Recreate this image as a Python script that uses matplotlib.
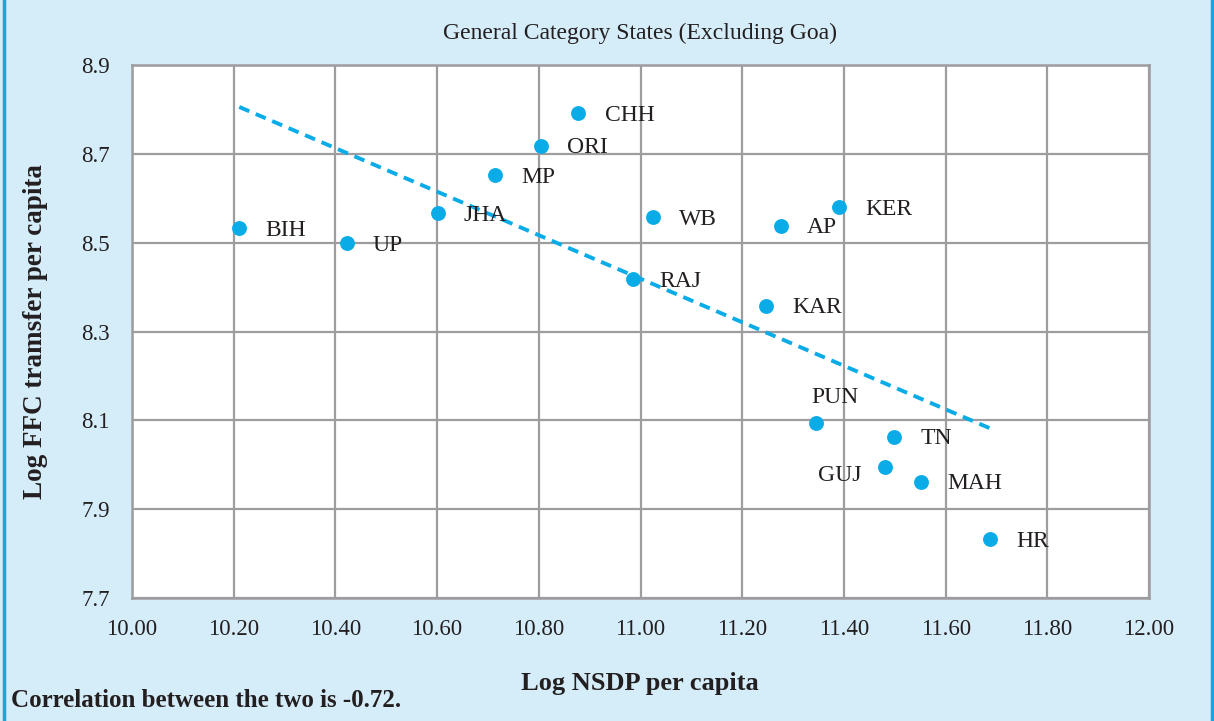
import numpy as np
import matplotlib.pyplot as plt
from matplotlib.lines import Line2D

# Data
states = ["BIH", "UP", "JHA", "MP", "ORI", "CHH", "WB", "RAJ",
          "AP", "KER", "KAR", "PUN", "TN", "GUJ", "MAH", "HR"]
log_nsdp = [10.211, 10.422, 10.601, 10.714, 10.804, 10.878, 11.024, 10.986,
            11.276, 11.391, 11.246, 11.345, 11.499, 11.481, 11.551, 11.687]
log_ffc = [8.532, 8.499, 8.566, 8.652, 8.718, 8.791, 8.558, 8.418,
           8.538, 8.580, 8.358, 8.093, 8.063, 7.994, 7.962, 7.833]
x_ticks = [10.0, 10.2, 10.4, 10.6, 10.8, 11.0, 11.2, 11.4, 11.6, 11.8, 12.0]
y_ticks = [7.7, 7.9, 8.1, 8.3, 8.5, 8.7, 8.9]

BG = "#D5ECF9"
BLUE = "#0AACE8"
GRID = "#9D9D9F"
TXT = "#231F20"

plt.rcParams["font.family"] = ["Liberation Serif", "DejaVu Serif"]

fig = plt.figure(figsize=(12.14, 7.21), dpi=100, facecolor=BG)
ax = fig.add_axes([0.1087, 0.1706, 0.8378, 0.7392])
ax.set_facecolor("white")

ax.set_xlim(10.0, 12.0)
ax.set_ylim(7.7, 8.9)
ax.set_xticks(x_ticks)
ax.set_yticks(y_ticks)
ax.set_xticklabels([f"{v:.2f}" for v in x_ticks])
ax.set_yticklabels([f"{v:.1f}" for v in y_ticks])
ax.tick_params(length=0, labelsize=16.5, colors=TXT)
ax.tick_params(axis="x", pad=15)
ax.tick_params(axis="y", pad=16)
ax.grid(True, color=GRID, lw=1.6)
ax.set_axisbelow(True)
for s in ax.spines.values():
    s.set_color(GRID)
    s.set_linewidth(1.8)

# trend line (least squares)
m, b = np.polyfit(log_nsdp, log_ffc, 1)
xs = np.array([min(log_nsdp), max(log_nsdp)])
ax.plot(xs, m * xs + b, color=BLUE, lw=2.8, ls=(0, (2.8, 1.8)), zorder=3)

ax.scatter(log_nsdp, log_ffc, s=115, color=BLUE, zorder=4, linewidths=0)

# label offsets in points
offsets = {"PUN": (14, 19, "center"), "GUJ": (-17, -6, "right")}
for name, xv, yv in zip(states, log_nsdp, log_ffc):
    dx, dy, ha = offsets.get(name, (19, -1.5, "left"))
    ax.annotate(name, (xv, yv), xytext=(dx, dy), textcoords="offset points",
                ha=ha, va="center", fontsize=17, color=TXT, zorder=5)

fig.text(0.527, 0.953, "General Category States (Excluding Goa)",
         ha="center", va="center", fontsize=17, color=TXT)
fig.text(0.527, 0.052, "Log NSDP per capita", ha="center", va="center",
         fontsize=19, fontweight="bold", color=TXT)
fig.text(0.029, 0.54, "Log FFC tramsfer per capita", ha="center", va="center",
         rotation=90, fontsize=19.5, fontweight="bold", color=TXT)
fig.text(0.009, 0.028, "Correlation between the two is -0.72.", ha="left",
         va="center", fontsize=18, fontweight="bold", color=TXT)

# blue frame edges
for xf in (0.003, 0.998):
    fig.add_artist(Line2D([xf, xf], [0, 1], color="#1BA3E0", lw=2.5,
                          transform=fig.transFigure))

fig.savefig("out.png", dpi=100, facecolor=BG)
